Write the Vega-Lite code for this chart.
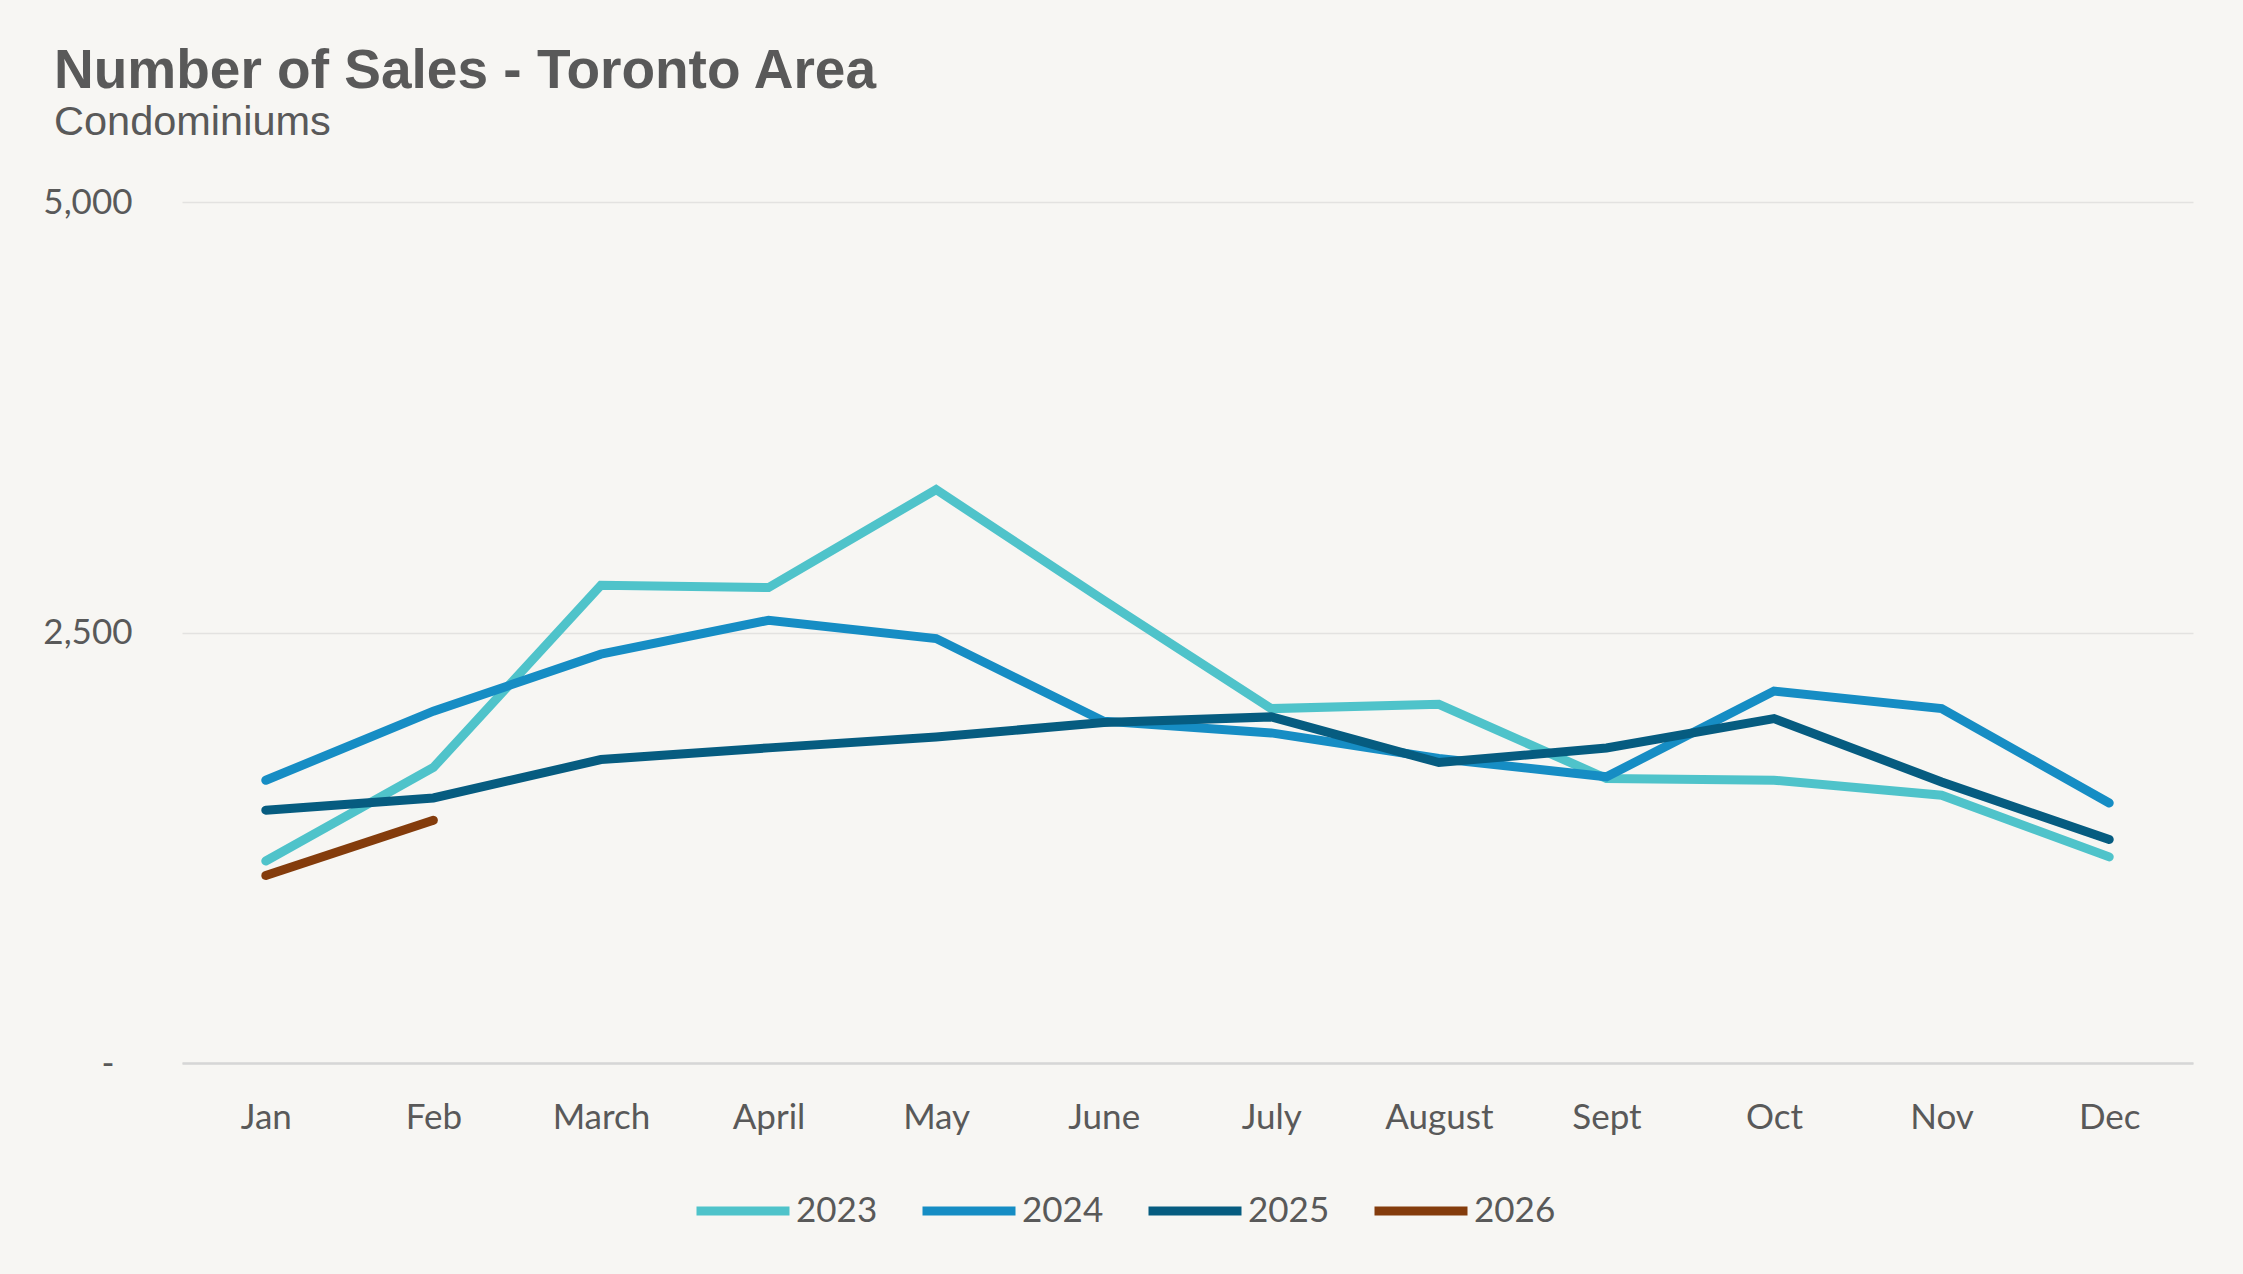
{
  "$schema": "https://vega.github.io/schema/vega-lite/v6.json",
  "autosize": "none",
  "width": 2011,
  "height": 861,
  "padding": {"left": 182, "top": 202, "right": 50, "bottom": 211},
  "background": "#F7F6F3",
  "title": {
    "text": "Number of Sales - Toronto Area",
    "subtitle": "Condominiums",
    "anchor": "start",
    "frame": "group",
    "dx": -128,
    "offset": 41,
    "font": "Liberation Sans",
    "fontSize": 55,
    "fontWeight": "bold",
    "color": "#595959",
    "subtitleFont": "Liberation Sans",
    "subtitleFontSize": 41.5,
    "subtitleColor": "#595959",
    "subtitlePadding": 2
  },
  "data": {
    "values": [
      {"year": "2023", "month": "Jan", "sales": 1173},
      {"year": "2023", "month": "Feb", "sales": 1716},
      {"year": "2023", "month": "March", "sales": 2774},
      {"year": "2023", "month": "April", "sales": 2761},
      {"year": "2023", "month": "May", "sales": 3330},
      {"year": "2023", "month": "June", "sales": 2687},
      {"year": "2023", "month": "July", "sales": 2058},
      {"year": "2023", "month": "August", "sales": 2083},
      {"year": "2023", "month": "Sept", "sales": 1652},
      {"year": "2023", "month": "Oct", "sales": 1642},
      {"year": "2023", "month": "Nov", "sales": 1555},
      {"year": "2023", "month": "Dec", "sales": 1197},
      {"year": "2024", "month": "Jan", "sales": 1642},
      {"year": "2024", "month": "Feb", "sales": 2043},
      {"year": "2024", "month": "March", "sales": 2374},
      {"year": "2024", "month": "April", "sales": 2571},
      {"year": "2024", "month": "May", "sales": 2465},
      {"year": "2024", "month": "June", "sales": 1985},
      {"year": "2024", "month": "July", "sales": 1917},
      {"year": "2024", "month": "August", "sales": 1768},
      {"year": "2024", "month": "Sept", "sales": 1662},
      {"year": "2024", "month": "Oct", "sales": 2160},
      {"year": "2024", "month": "Nov", "sales": 2058},
      {"year": "2024", "month": "Dec", "sales": 1510},
      {"year": "2025", "month": "Jan", "sales": 1468},
      {"year": "2025", "month": "Feb", "sales": 1539},
      {"year": "2025", "month": "March", "sales": 1762},
      {"year": "2025", "month": "April", "sales": 1830},
      {"year": "2025", "month": "May", "sales": 1893},
      {"year": "2025", "month": "June", "sales": 1977},
      {"year": "2025", "month": "July", "sales": 2010},
      {"year": "2025", "month": "August", "sales": 1745},
      {"year": "2025", "month": "Sept", "sales": 1829},
      {"year": "2025", "month": "Oct", "sales": 2000},
      {"year": "2025", "month": "Nov", "sales": 1632},
      {"year": "2025", "month": "Dec", "sales": 1298},
      {"year": "2026", "month": "Jan", "sales": 1089},
      {"year": "2026", "month": "Feb", "sales": 1410}
    ]
  },
  "mark": {"type": "line", "strokeWidth": 9, "strokeCap": "round", "strokeJoin": "miter"},
  "encoding": {
    "x": {
      "field": "month",
      "type": "nominal",
      "sort": ["Jan", "Feb", "March", "April", "May", "June", "July", "August", "Sept", "Oct", "Nov", "Dec"],
      "scale": {"type": "point", "padding": 0.5},
      "axis": {
        "title": null,
        "labelAngle": 0,
        "ticks": false,
        "domain": true,
        "domainColor": "#D6D6D6",
        "domainWidth": 2.5,
        "labelFont": "Lato",
        "labelFontSize": 35,
        "labelColor": "#595959",
        "labelPadding": 37,
        "grid": false
      }
    },
    "y": {
      "field": "sales",
      "type": "quantitative",
      "scale": {"domain": [0, 5000], "nice": false},
      "axis": {
        "title": null,
        "values": [0, 2500, 5000],
        "labelExpr": "datum.value === 0 ? '-' : format(datum.value, ',')",
        "ticks": false,
        "domain": false,
        "grid": true,
        "gridColor": "#E3E2E0",
        "gridWidth": 1.5,
        "labelFont": "Lato",
        "labelFontSize": 35,
        "labelColor": "#595959",
        "labelPadding": {"condition": {"test": "datum.value === 0", "value": 68}, "value": 50}
      }
    },
    "color": {
      "field": "year",
      "type": "nominal",
      "scale": {"domain": ["2023", "2024", "2025", "2026"], "range": ["#4FC3CA", "#168DC4", "#065C80", "#843C0C"]},
      "legend": {
        "title": null,
        "orient": "none",
        "direction": "horizontal",
        "legendX": 510,
        "legendY": 958,
        "symbolType": "stroke",
        "symbolSize": 8649,
        "symbolStrokeWidth": 9,
        "labelFont": "Lato",
        "labelFontSize": 35,
        "labelColor": "#595959",
        "labelOffset": 2,
        "columnPadding": 26
      }
    }
  },
  "config": {
    "view": {"stroke": null}
  }
}
